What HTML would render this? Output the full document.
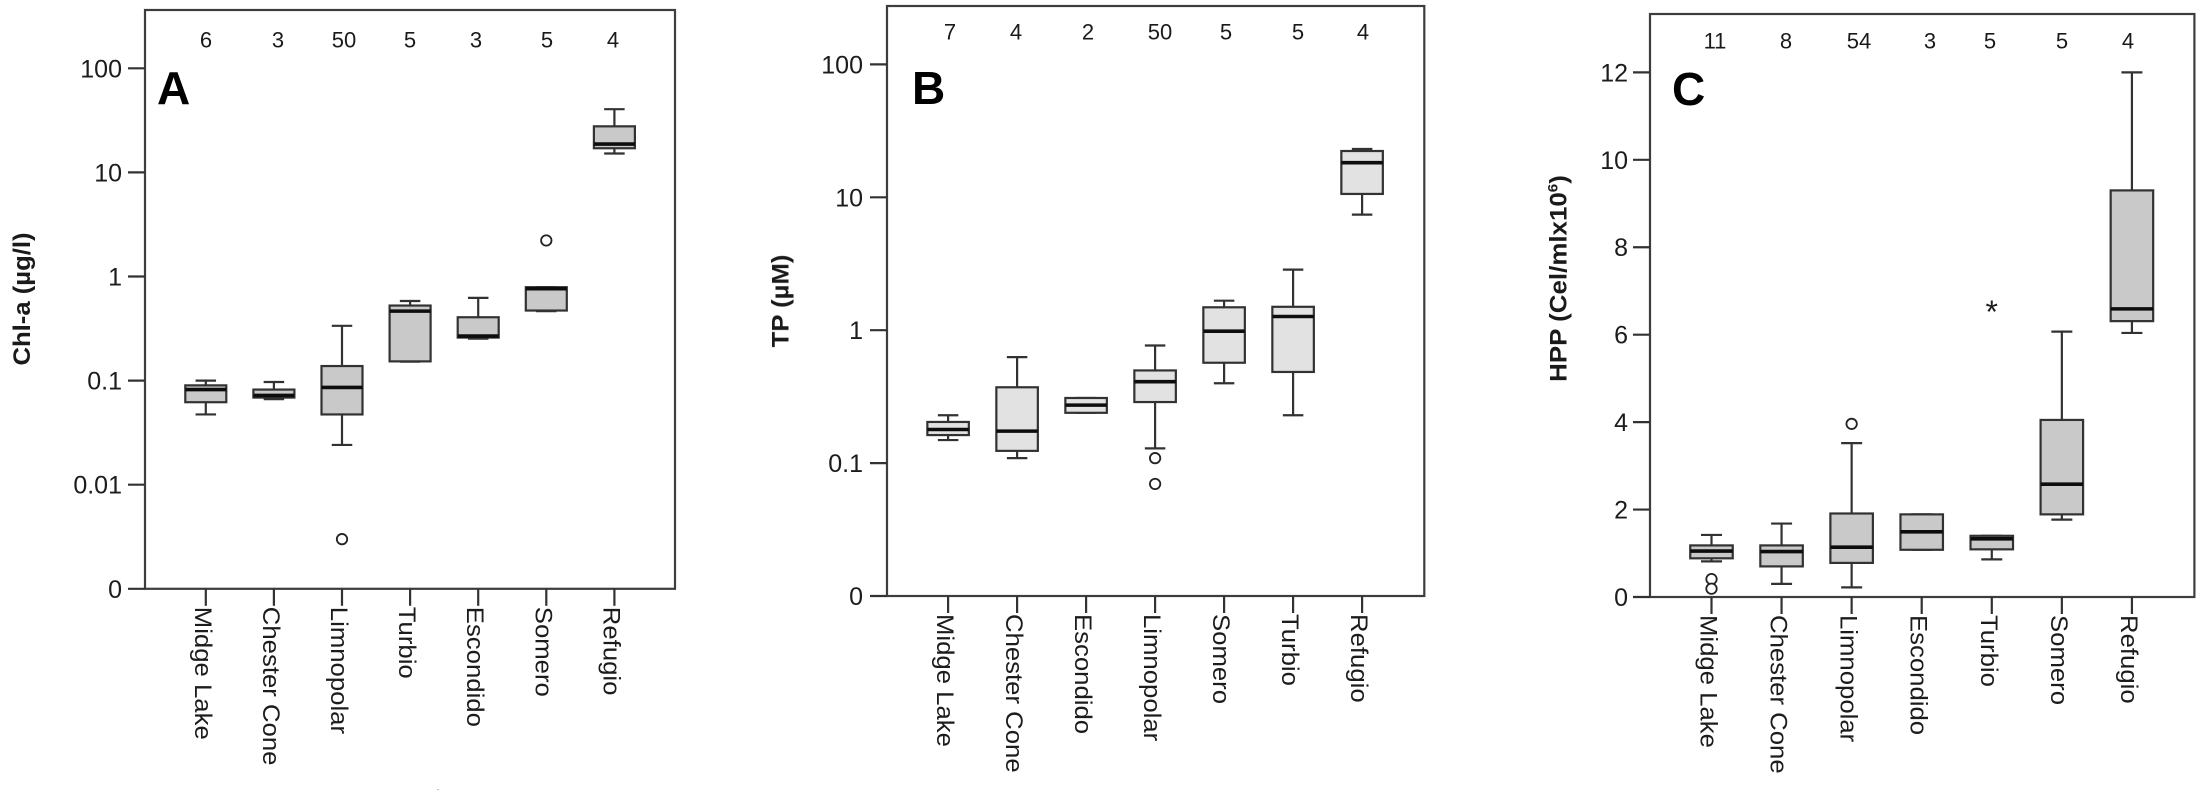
<!DOCTYPE html>
<html lang="en">
<head>
<meta charset="utf-8">
<title>Lake box plots: Chl-a, TP and HPP</title>
<style>
html,body{margin:0;padding:0;background:#fff;}
body{width:2206px;height:798px;overflow:hidden;}
svg{display:block;}
text{font-family:"Liberation Sans",Arial,sans-serif;fill:#1a1a1a;}
.n{font-size:22px;text-anchor:middle;dominant-baseline:central;}
.letter{font-size:46px;font-weight:bold;fill:#000;}
</style>
</head>
<body>
<svg id="figure" width="2206" height="798" viewBox="0 0 2206 798" xmlns="http://www.w3.org/2000/svg">
  <defs><filter id="soft" x="-2%" y="-2%" width="104%" height="104%"><feGaussianBlur stdDeviation="0.35"/></filter></defs>
  <g id="panels" filter="url(#soft)"></g>
  <g>
    <text class="n" x="206" y="40">6</text><text class="n" x="278" y="40">3</text><text class="n" x="344" y="40">50</text><text class="n" x="410" y="40">5</text><text class="n" x="476" y="40">3</text><text class="n" x="547" y="40">5</text><text class="n" x="613" y="40">4</text>
  </g>
  <g>
    <text class="n" x="950" y="32">7</text><text class="n" x="1016" y="32">4</text><text class="n" x="1088" y="32">2</text><text class="n" x="1160" y="32">50</text><text class="n" x="1226" y="32">5</text><text class="n" x="1298" y="32">5</text><text class="n" x="1363" y="32">4</text>
  </g>
  <g>
    <text class="n" x="1715" y="41">11</text><text class="n" x="1786" y="41">8</text><text class="n" x="1859" y="41">54</text><text class="n" x="1930" y="41">3</text><text class="n" x="1990" y="41">5</text><text class="n" x="2062" y="41">5</text><text class="n" x="2128" y="41">4</text>
  </g>
  <text class="letter" x="157" y="104">A</text>
  <text class="letter" x="912" y="104">B</text>
  <text class="letter" x="1672" y="105">C</text>
  <text font-size="24" font-weight="bold" text-anchor="middle" transform="translate(30,299) rotate(-90) scale(1.07,1)">Chl-a (µg/l)</text>
  <text font-size="24" font-weight="bold" text-anchor="middle" transform="translate(788.5,301) rotate(-90) scale(1.07,1)">TP (µM)</text>
  <text font-size="24" font-weight="bold" text-anchor="middle" transform="translate(1566.5,278.5) rotate(-90) scale(1.08,1)">HPP (Cel/mlx10<tspan font-size="14" dy="-9">6</tspan><tspan dy="9">)</tspan></text>
  <rect x="437" y="789" width="2" height="1" fill="#bbb"/>
</svg>
<script>
/* Panel A: Chl-a */
const catsA = ["Midge Lake","Chester Cone","Limnopolar","Turbio","Escondido","Somero","Refugio"];
const hiA   = [0.1,   0.097, 0.336, 0.582, 0.623, 0.789, 40.5];
const q3A   = [0.09,  0.082, 0.138, 0.526, 0.406, 0.789, 27.7];
const medA  = [0.082, 0.072, 0.086, 0.465, 0.268, 0.764, 18.7];
const q1A   = [0.062, 0.0687,0.0473,0.153, 0.259, 0.471, 17.06];
const loA   = [0.0473,0.0664,0.0241,0.152, 0.253, 0.465, 15.2];
const outCatA = ["Limnopolar","Somero"];
const outValA = [0.003, 2.22];
const ticksA  = [0.001, 0.01, 0.1, 1, 10, 100];
const tickLabelsA = ["0","0.01","0.1","1","10","100"];

/* Panel B: TP */
const catsB = ["Midge Lake","Chester Cone","Escondido","Limnopolar","Somero","Turbio","Refugio"];
const hiB   = [0.229, 0.627, 0.309, 0.767, 1.667, 2.858, 23.1];
const q3B   = [0.204, 0.372, 0.309, 0.498, 1.487, 1.5,   22.3];
const medB  = [0.179, 0.174, 0.273, 0.41,  0.983, 1.268, 18.2];
const q1B   = [0.1625,0.1236,0.239, 0.288, 0.569, 0.485, 10.6];
const loB   = [0.149, 0.109, 0.239, 0.129, 0.399, 0.229, 7.41];
const outCatB = ["Limnopolar","Limnopolar"];
const outValB = [0.109, 0.0697];
const ticksB  = [0.01, 0.1, 1, 10, 100];
const tickLabelsB = ["0","0.1","1","10","100"];

/* Panel C: HPP */
const catsC = ["Midge Lake","Chester Cone","Limnopolar","Escondido","Turbio","Somero","Refugio"];
const hiC   = [1.42, 1.68, 3.52, 1.89, 1.40, 6.07, 12];
const q3C   = [1.18, 1.18, 1.91, 1.89, 1.40, 4.05, 9.3];
const medC  = [1.05, 1.04, 1.14, 1.49, 1.33, 2.58, 6.59];
const q1C   = [0.885,0.70, 0.78, 1.08, 1.09, 1.89, 6.31];
const loC   = [0.815,0.30, 0.22, 1.08, 0.86, 1.77, 6.04];
const outCatC = ["Midge Lake","Midge Lake","Limnopolar"];
const outValC = [0.41, 0.19, 3.96];
const starCatC = ["Turbio"];
const starValC = [6.6];
const ticksC  = [0, 2, 4, 6, 8, 10, 12];
const tickLabelsC = ["0","2","4","6","8","10","12"];

const NS = "http://www.w3.org/2000/svg";
const root = document.getElementById("panels");

function mk(parent, tag, attrs) {
  const e = document.createElementNS(NS, tag);
  for (const k in attrs) e.setAttribute(k, attrs[k]);
  parent.appendChild(e);
  return e;
}
function logScale(floorValue, yFloor, pxPerDecade) {
  return function (v) { return yFloor - (Math.log10(v) - Math.log10(floorValue)) * pxPerDecade; };
}
function linScale(yZero, pxPerUnit) {
  return function (v) { return yZero - v * pxPerUnit; };
}
function bandScale(cats, x0, step) {
  return function (c) { return x0 + cats.indexOf(c) * step; };
}

function drawPanel(id, g, cats, hi, q3, med, q1, lo, outCat, outVal, ticks, tickLabels, y, x) {
  const panel = mk(root, "g", {});
  
  
  const ink = "#333";
  const sw = 2.2;
  const frame = mk(panel, "rect", {x: g.left, y: g.top, width: g.right - g.left, height: g.bottom - g.top, fill: "none", stroke: "#3c3c3c", "stroke-width": sw});
  
  

  ticks.forEach(function (t, i) {
    const ty = y(t);
    const tl = mk(panel, "line", {x1: g.left - 17, x2: g.left, y1: ty, y2: ty, stroke: ink, "stroke-width": sw});
    
    
    const lb = mk(panel, "text", {"font-size": 25, "text-anchor": "end", transform: "translate(" + g.labelRight + "," + (ty + 9) + ")"});
    lb.textContent = tickLabels[i];
    
    
  });

  cats.forEach(function (c, i) {
    const cx = x(c);
    const tl = mk(panel, "line", {x1: cx, x2: cx, y1: g.bottom, y2: g.bottom + 17, stroke: ink, "stroke-width": sw});
    
    
    const lb = mk(panel, "text", {"font-size": 24.5, transform: "translate(" + (cx - 11) + "," + (g.bottom + 18) + ") rotate(90) scale(1.05,1)"});
    lb.textContent = c;
    
    

    const box = mk(panel, "g", {});
    
    
    const yHi = y(hi[i]), yQ3 = y(q3[i]), yMed = y(med[i]), yQ1 = y(q1[i]), yLo = y(lo[i]);
    mk(box, "line", {x1: cx, x2: cx, y1: yHi, y2: yQ3, stroke: ink, "stroke-width": sw});
    mk(box, "line", {x1: cx, x2: cx, y1: yQ1, y2: yLo, stroke: ink, "stroke-width": sw});
    mk(box, "line", {x1: cx - g.cap / 2, x2: cx + g.cap / 2, y1: yHi, y2: yHi, stroke: ink, "stroke-width": sw});
    mk(box, "line", {x1: cx - g.cap / 2, x2: cx + g.cap / 2, y1: yLo, y2: yLo, stroke: ink, "stroke-width": sw});
    mk(box, "rect", {x: cx - g.box / 2, y: yQ3, width: g.box, height: yQ1 - yQ3, fill: g.fill, stroke: ink, "stroke-width": sw});
    mk(box, "line", {x1: cx - g.box / 2, x2: cx + g.box / 2, y1: yMed, y2: yMed, stroke: "#111", "stroke-width": 3.6});
  });

  outCat.forEach(function (c, i) {
    const o = mk(panel, "circle", {cx: x(c), cy: y(outVal[i]), r: 5.2, fill: "#fff", stroke: "#222", "stroke-width": 1.8});
    
    
  });
  return panel;
}

const xA = bandScale(catsA, 205.8, 68.1);
const yA = logScale(0.001, 588.8, 104.1);
drawPanel("a", {left: 145, right: 675, top: 10, bottom: 588.8, labelRight: 122, cap: 20.5, box: 41, fill: "#c9c9c9"},
  catsA, hiA, q3A, medA, q1A, loA, outCatA, outValA, ticksA, tickLabelsA, yA, xA);

const xB = bandScale(catsB, 948.1, 69);
const yB = logScale(0.01, 596, 132.9);
drawPanel("b", {left: 887, right: 1424.3, top: 6, bottom: 596, labelRight: 863, cap: 20.5, box: 41.5, fill: "#e2e2e2"},
  catsB, hiB, q3B, medB, q1B, loB, outCatB, outValB, ticksB, tickLabelsB, yB, xB);

const xC = bandScale(catsC, 1711.5, 70.07);
const yC = linScale(597, 43.72);
const panelC = drawPanel("c", {left: 1650, right: 2194.4, top: 14, bottom: 597, labelRight: 1628, cap: 21, box: 42.5, fill: "#c9c9c9"},
  catsC, hiC, q3C, medC, q1C, loC, outCatC, outValC, ticksC, tickLabelsC, yC, xC);

starCatC.forEach(function (c, i) {
  const s = mk(panelC, "text", {x: xC(c), y: yC(starValC[i]) + 14.5, "font-size": 32, "text-anchor": "middle"});
  s.textContent = "*";
  
  
});
</script>
</body>
</html>
